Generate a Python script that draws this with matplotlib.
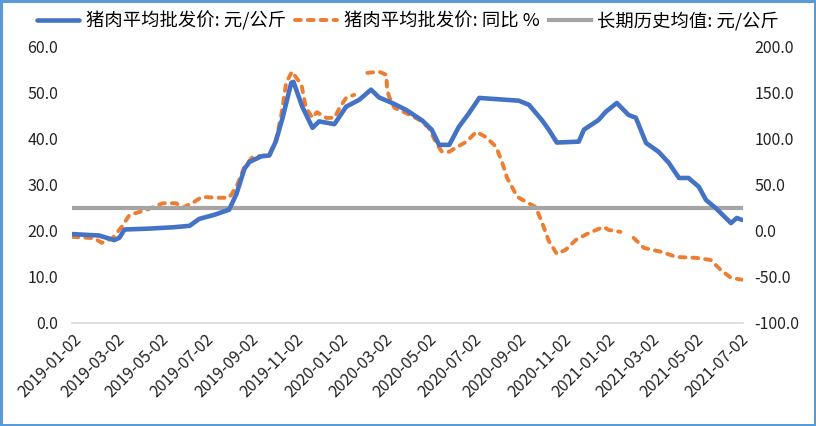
import numpy as np
import pandas as pd
import matplotlib
matplotlib.use("Agg")
import matplotlib.pyplot as plt

plt.rcParams['font.family'] = ['Noto Sans CJK SC', 'DejaVu Sans']

# -----------------------------
# DATA
# -----------------------------
price_dates = [
    "2019-01-02", "2019-02-07", "2019-02-28", "2019-03-07", "2019-03-14", "2019-04-17",
    "2019-05-21", "2019-06-11", "2019-06-24", "2019-07-15", "2019-08-04", "2019-08-14",
    "2019-08-25", "2019-09-01", "2019-09-17", "2019-09-28", "2019-10-07", "2019-10-16",
    "2019-10-28", "2019-10-31", "2019-11-12", "2019-11-26", "2019-12-05", "2019-12-26",
    "2020-01-11", "2020-01-29", "2020-02-14", "2020-02-25", "2020-03-14", "2020-04-02",
    "2020-04-24", "2020-05-07", "2020-05-17", "2020-05-31", "2020-06-13", "2020-06-27",
    "2020-07-11", "2020-08-07", "2020-09-03", "2020-09-17", "2020-10-05", "2020-10-14",
    "2020-10-25", "2020-11-24", "2020-12-01", "2020-12-21", "2020-12-31", "2021-01-15",
    "2021-01-31", "2021-02-10", "2021-02-24", "2021-03-13", "2021-03-27", "2021-04-10",
    "2021-04-23", "2021-05-07", "2021-05-17", "2021-05-30", "2021-06-20", "2021-06-28",
    "2021-07-05",
]
price = [
    19.3, 19.0, 18.0, 18.5, 20.3, 20.5,
    20.8, 21.1, 22.6, 23.5, 24.6, 28.0,
    33.5, 35.0, 36.2, 36.4, 39.5, 44.5,
    52.2, 52.4, 47.0, 42.4, 43.8, 43.2,
    47.0, 48.5, 50.7, 49.0, 47.8, 46.3,
    44.0, 42.0, 38.7, 38.7, 42.6, 45.6,
    48.9, 48.6, 48.3, 47.4, 44.0, 42.0,
    39.2, 39.4, 42.0, 44.1, 45.9, 47.8,
    45.2, 44.6, 39.1, 37.2, 34.8, 31.5,
    31.5, 29.6, 26.7, 25.0, 21.7, 22.8,
    22.4,
]

yoy_dates = [
    "2019-01-02", "2019-02-01", "2019-02-11", "2019-02-26", "2019-03-10", "2019-03-21",
    "2019-04-13", "2019-05-05", "2019-05-24", "2019-06-01", "2019-06-15", "2019-06-28",
    "2019-07-18", "2019-08-04", "2019-08-14", "2019-08-25", "2019-09-05", "2019-09-28",
    "2019-10-07", "2019-10-14", "2019-10-21", "2019-10-29", "2019-11-11", "2019-11-17",
    "2019-11-26", "2019-12-02", "2019-12-15", "2019-12-26", "2020-01-02", "2020-01-11",
    "2020-01-22", "2020-01-30", "2020-02-09", "2020-02-25", "2020-03-06", "2020-03-07",
    "2020-03-10", "2020-03-17", "2020-04-02", "2020-04-20", "2020-05-03", "2020-05-13",
    "2020-05-21", "2020-05-31", "2020-06-11", "2020-06-23", "2020-07-07", "2020-07-20",
    "2020-08-03", "2020-08-11", "2020-08-18", "2020-09-01", "2020-09-13", "2020-09-26",
    "2020-10-05", "2020-10-14", "2020-10-25", "2020-11-06", "2020-11-20", "2020-12-08",
    "2020-12-28", "2021-01-04", "2021-01-20", "2021-01-28", "2021-02-07", "2021-02-21",
    "2021-03-17", "2021-04-06", "2021-05-03", "2021-05-23", "2021-06-06", "2021-06-20",
    "2021-07-05",
]
yoy = [
    -6.5, -8.0, -13.0, -7.6, 4.3, 17.4,
    22.8, 30.0, 30.0, 25.0, 30.4, 37.0,
    36.0, 36.0, 48.0, 69.6, 80.4, 82.6,
    99.0, 124.0, 161.0, 173.0, 158.7, 133.7,
    122.8, 129.0, 122.8, 122.8, 133.7, 144.6,
    147.8, np.nan, 171.7, 173.0, 169.6, 153.0,
    145.6, 133.7, 128.0, 120.7, 112.0, 95.7,
    86.0, 86.0, 91.3, 96.7, 107.6, 102.0,
    91.3, 75.0, 57.6, 37.0, 31.5, 26.0,
    8.7, -11.0, -25.0, -20.6, -9.8, -2.2,
    4.3, 1.0, -1.1, np.nan, -7.6, -18.5,
    -22.8, -28.3, -29.3, -31.5, -42.4, -51.0,
    -53.0,
]

long_term_avg = 25.0

tick_dates = [
    "2019-01-02", "2019-03-02", "2019-05-02", "2019-07-02", "2019-09-02", "2019-11-02",
    "2020-01-02", "2020-03-02", "2020-05-02", "2020-07-02", "2020-09-02", "2020-11-02",
    "2021-01-02", "2021-03-02", "2021-05-02", "2021-07-02",
]

labels = ["猪肉平均批发价: 元/公斤", "猪肉平均批发价: 同比 %", "长期历史均值: 元/公斤"]

# -----------------------------
# PLOT
# -----------------------------
blue, orange, grey = "#4472C4", "#ED7D31", "#A5A5A5"

fig = plt.figure(figsize=(8.16, 4.26), dpi=100)
fig.patch.set_edgecolor("#5B9BD5")
fig.patch.set_linewidth(2.5)
ax = fig.add_axes([0.088, 0.242, 0.823, 0.648])
ax2 = ax.twinx()

l1, = ax.plot(pd.to_datetime(price_dates), price, color=blue, lw=3.3,
              solid_capstyle="round", zorder=3)
l3 = ax.axhline(long_term_avg, color=grey, lw=3.0, zorder=2)
l2, = ax2.plot(pd.to_datetime(yoy_dates), yoy, color=orange, lw=2.8,
               dashes=(1.5, 1.8), dash_capstyle="round", zorder=3)
ax.set_zorder(ax2.get_zorder() + 1)
ax.patch.set_visible(False)

ax.set_ylim(0, 60)
ax.set_yticks(np.arange(0, 61, 10))
ax.set_yticklabels([f"{v:.1f}" for v in np.arange(0, 61, 10)])
ax2.set_ylim(-100, 200)
ax2.set_yticks(np.arange(-100, 201, 50))
ax2.set_yticklabels([f"{v:.1f}" for v in np.arange(-100, 201, 50)])

ax.set_xlim(pd.Timestamp("2019-01-01"), pd.Timestamp("2021-07-07"))
ax.set_xticks(pd.to_datetime(tick_dates))
ax.set_xticklabels(tick_dates, rotation=45, ha="right", rotation_mode="anchor")

for a in (ax, ax2):
    for s in a.spines.values():
        s.set_visible(False)
    a.tick_params(length=0, labelsize=11.5, colors="#222222")
ax.spines["bottom"].set_visible(True)
ax.spines["bottom"].set_color("#D9D9D9")
ax.spines["bottom"].set_linewidth(1.2)
ax.tick_params(axis="x", pad=6)
ax.tick_params(axis="y", pad=10)
ax2.tick_params(axis="y", pad=8)

fig.legend([l1, l2, l3], labels, loc="upper center", bbox_to_anchor=(0.5, 1.0),
           ncol=3, frameon=False, fontsize=13.2, handlelength=2.3,
           columnspacing=0.5, handletextpad=0.35, borderaxespad=0.2)

fig.savefig("out.png", dpi=100, edgecolor=fig.get_edgecolor())
